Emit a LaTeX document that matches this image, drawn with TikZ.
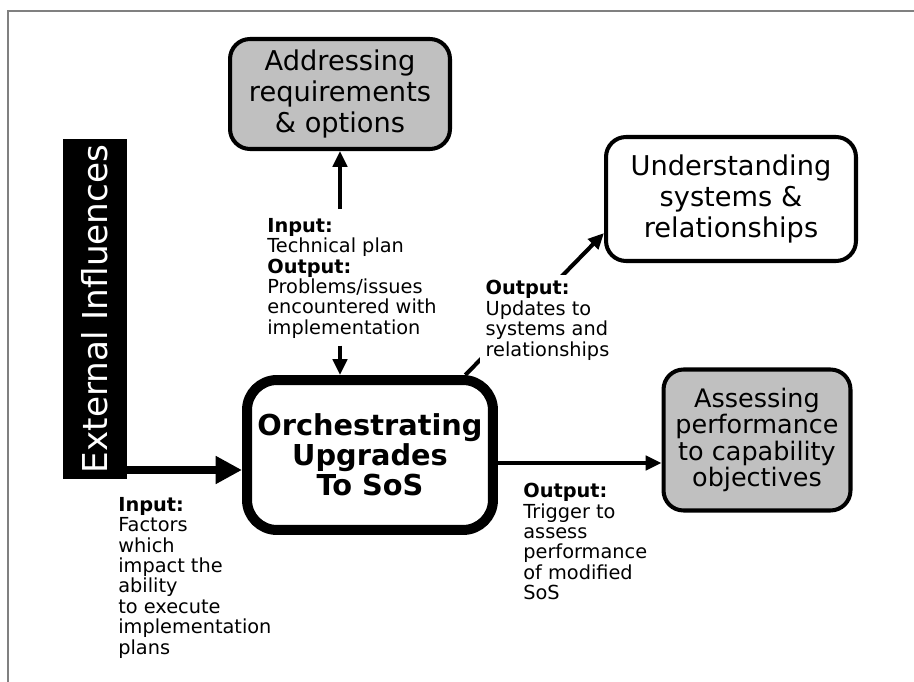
\documentclass[tikz,border=0pt]{standalone}
\usepackage{fontspec}
\setmainfont{DejaVu Sans}
\usetikzlibrary{arrows.meta, calc}
\definecolor{boxgrey}{HTML}{C0C0C0}
\definecolor{framegrey}{HTML}{808080}
\tikzset{
    task-box/.style={
        draw, line width=2.3pt, rounded corners=0.4cm, align=center, inner sep=0pt,
        font=\fontsize{15.5}{17.5}\selectfont
    },
    grey-box/.style={
        task-box, fill=boxgrey
    },
    main-box/.style={
        draw, line width=5.7pt, rounded corners=0.6cm, align=center, inner sep=0pt,
        minimum width=4.92cm, minimum height=3cm,
        font=\bfseries\fontsize{16.4}{17}\selectfont
    },
    note/.style={
        align=left, anchor=north west, inner sep=0pt,
        font=\fontsize{11}{11.6}\selectfont
    },
    flow-arrow/.style={
        line width=2.3pt, -{Triangle[length=9pt, width=8pt]}
    },
    big-arrow/.style={
        line width=4.5pt, -{Triangle[length=15pt, width=15pt]}
    },
}

\begin{document}
\begin{tikzpicture}[x=0.02cm, y=-0.02cm]

        \useasboundingbox (0,0) rectangle (914,682);

        % FRAME
        \draw[framegrey, line width=1.1pt] (8,682) -- (8,11) -- (914,11);

        % BOXES
        \node[grey-box, minimum width=4.4cm, minimum height=2.2cm]  (addr)   at (340,94)  {Addressing\\requirements\\\& options};
        \node[task-box, minimum width=5cm, minimum height=2.48cm]   (under)  at (731,199) {Understanding\\systems \&\\relationships};
        \node[grey-box, minimum width=3.74cm, minimum height=2.82cm,
              font=\fontsize{14.5}{15.1}\selectfont]                (assess) at (757,440) {Assessing\\performance\\to capability\\objectives};
        \node[main-box]                                             (orch)   at (370,455) {Orchestrating\\Upgrades\\To SoS};

        % EXTERNAL INFLUENCES
        \node[fill=black, text=white, rotate=90, minimum width=6.64cm, minimum height=1.28cm,
              font=\fontsize{19.5}{21}\selectfont]                  (ext)    at (95,309) {External Influences};

        % LABELS
        \node[note] (plan) at (267,218) {\textbf{Input:}\\Technical plan\\\textbf{Output:}\\Problems/issues\\encountered with\\implementation};
        \node[note] (trig) at (523,483) {\textbf{Output:}\\Trigger to\\assess\\performance\\of modified\\SoS};
        \node[note] (fact) at (118,497) {\textbf{Input:}\\Factors\\which\\impact the\\ability\\to execute\\implementation\\plans};

        % CONNECTIONS
        \coordinate (orchin)  at ($(orch.west)+(0,15)$);
        \coordinate (orchout) at ($(orch.east)+(0,8)$);
        \draw[big-arrow]  (ext.south |- orchin) -- (orchin);
        \draw[flow-arrow, shorten <=5pt] (plan.north -| addr.south) -- (addr.south);
        \draw[flow-arrow, shorten <=4pt] (plan.south -| addr.south) -- (orch.north -| addr.south);
        \draw[flow-arrow] (orchout) -- (orchout -| assess.west);
        \draw[flow-arrow] (orch.40) -- (under.195);

        % LABEL OVER THE DIAGONAL
        \node[note, fill=white, inner sep=3pt] (upd) at (480,275) {\textbf{Output:}\\Updates to\\systems and\\relationships};

    \end{tikzpicture}
\end{document}
